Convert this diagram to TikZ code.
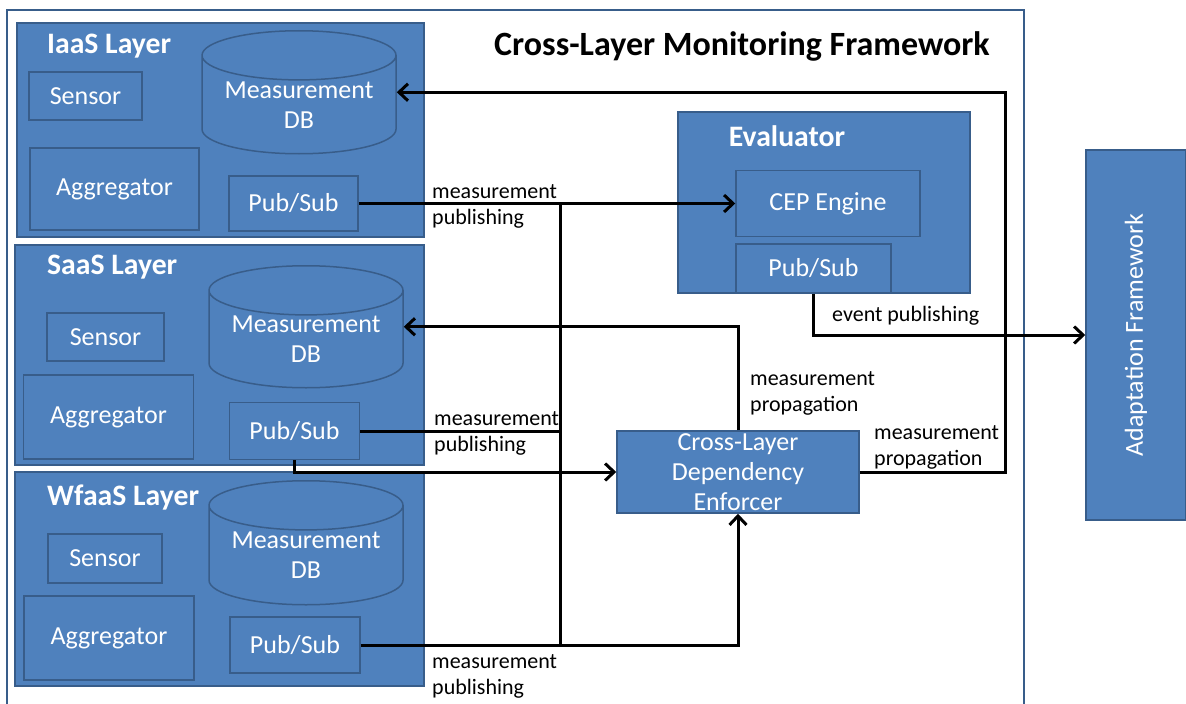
\documentclass[tikz,border=0pt]{standalone}
\usepackage{fontspec}
\setmainfont{Carlito}
\usetikzlibrary{shapes.geometric,arrows.meta}
\definecolor{boxblue}{HTML}{4F81BD}
\definecolor{boxline}{HTML}{385D8A}
\def\BoxFont{\fontsize{26}{30}\selectfont}
\def\HeadFont{\bfseries\fontsize{29.7}{32}\selectfont}
\def\NoteFont{\fontsize{22}{26}\selectfont}
\def\BusX{560}
\def\PropX{1005}

\begin{document}
\begin{tikzpicture}[x=1pt,y=-1pt,
  layer/.style={draw=boxline, line width=1.5pt, fill=boxblue, inner sep=0pt},
  comp/.style={draw=boxline, line width=1.5pt, fill=boxblue, text=white,
    font=\BoxFont, align=center, inner sep=0pt},
  db/.style={comp, cylinder, shape border rotate=90, aspect=0.33, anchor=north},
  head/.style={text=white, font=\HeadFont, inner sep=0pt},
  note/.style={font=\NoteFont, align=left, anchor=west, inner sep=0pt},
  conn/.style={line width=3pt, -{Straight Barb[length=9pt,width=17pt]}},
  wire/.style={line width=3pt}]
  \useasboundingbox (0,0) rectangle (1186,704);
  % monitoring framework frame
  \draw [boxline, line width=1.5pt] (7,720) -- (7,10) -- (1024,10) -- (1024,720);
  \node [font=\bfseries\fontsize{34}{38}\selectfont] (fwtitle) at (742,46)
    {Cross-Layer Monitoring Framework};
  % IaaS layer
  \node [layer, minimum width=407, minimum height=214] (iaas) at (220.5,130) {};
  \node [head, anchor=west] (ititle) at (47,46) {IaaS Layer};
  \node [comp, minimum width=113, minimum height=48] (isen) at (85.5,96) {Sensor};
  \node [db, minimum width=194, minimum height=123] (idb) at (299,30) {Measurement\\DB};
  \node [comp, minimum width=169, minimum height=82] (iagg) at (114.5,189) {Aggregator};
  \node [comp, minimum width=129, minimum height=55] (ips) at (293.5,203.5) {Pub/Sub};
  % SaaS layer
  \node [layer, minimum width=409, minimum height=220] (saas) at (219.5,355) {};
  \node [head, anchor=west] (stitle) at (47,267) {SaaS Layer};
  \node [comp, minimum width=117, minimum height=48] (ssen) at (105.5,337) {Sensor};
  \node [db, minimum width=194, minimum height=122] (sdb) at (306,265) {Measurement\\DB};
  \node [comp, minimum width=170, minimum height=84] (sagg) at (108.5,417) {Aggregator};
  \node [comp, minimum width=130, minimum height=57] (sps) at (294.5,431) {Pub/Sub};
  % WfaaS layer
  \node [layer, minimum width=409, minimum height=214] (wfaas) at (219.5,579) {};
  \node [head, anchor=west] (wtitle) at (47,498) {WfaaS Layer};
  \node [comp, minimum width=114, minimum height=49] (wsen) at (105,558.5) {Sensor};
  \node [db, minimum width=194, minimum height=124] (wdb) at (306,480) {Measurement\\DB};
  \node [comp, minimum width=170, minimum height=84] (wagg) at (109,638) {Aggregator};
  \node [comp, minimum width=130, minimum height=56] (wps) at (295,645) {Pub/Sub};
  % evaluator
  \node [layer, minimum width=292, minimum height=181] (eval) at (824,202.5) {};
  \node [head] (etitle) at (787,136) {Evaluator};
  \node [comp, minimum width=184, minimum height=66] (cep) at (828,203.5) {CEP Engine};
  \node [comp, minimum width=155, minimum height=49] (eps) at (813.5,268.5) {Pub/Sub};
  % dependency enforcer and adaptation
  \node [comp, minimum width=242, minimum height=82] (dep) at (738,472)
    {Cross-Layer\\Dependency\\Enforcer};
  \node [comp, minimum width=100, minimum height=370] (adapt) at (1136,335)
    {\rotatebox{90}{Adaptation Framework}};
  % connectors
  \coordinate (bus) at (\BusX,203.5);
  \coordinate (prop) at (\PropX,472);
  \draw [conn] (ips.east) -- (cep.west);
  \draw [wire] (bus) -- (bus |- wps.east);
  \draw [wire] (sps.east) -- (sps.east -| bus);
  \draw [conn] (wps.east) -| (dep.south);
  \draw [conn] (sps.south) |- (dep.west);
  \draw [conn] (dep.north) |- (sdb.east |- sdb.shape center);
  \draw [conn] (dep.east) -- (prop) |- (idb.east |- idb.shape center);
  \draw [conn] (eps.south) |- (adapt.west);
  % labels
  \node [note] (lpub1) at (432,206) {measurement\\publishing};
  \node [note] (lpub2) at (434,433.5) {measurement\\publishing};
  \node [note] (lpub3) at (432,676) {measurement\\publishing};
  \node [note] (levent) at (832,316) {event publishing};
  \node [note] (lprop1) at (750,393) {measurement\\propagation};
  \node [note] (lprop2) at (874,447.5) {measurement\\propagation};
\end{tikzpicture}
\end{document}
